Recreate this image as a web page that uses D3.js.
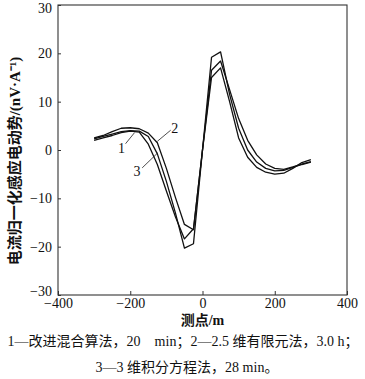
<!DOCTYPE html>
<html>
<head>
<meta charset="utf-8">
<script src="https://cdn.jsdelivr.net/npm/d3@7"></script>
<style>
body { margin: 0; background: #fff; }
svg { display: block; }
</style>
</head>
<body>
<svg id="chart"></svg>
<script>
// ===== data =====
const points = [-300,-275,-250,-225,-200,-175,-150,-125,-100,-75,-50,-25,0,25,50,75,100,125,150,175,200,225,250,275,300];
const curve1 = [2.0,2.5,3.0,3.6,3.9,3.7,1.2,-3.0,-8.5,-13.8,-18.4,-16.3,0,16.5,18.4,12.5,6.5,2.0,-1.0,-2.9,-3.8,-4.0,-3.5,-2.9,-2.4];
const curve2 = [2.5,3.0,3.8,4.5,4.6,4.4,3.5,1.5,-3.8,-9.8,-15.4,-16.5,0,15.0,17.0,10.0,2.5,-1.5,-3.6,-4.6,-5.0,-4.8,-3.8,-2.6,-2.0];
const curve3 = [2.3,2.8,3.3,3.8,4.0,3.9,2.8,-0.8,-6.5,-13.0,-20.3,-19.4,0,19.2,20.3,11.5,4.5,0,-2.5,-3.8,-4.3,-4.2,-3.6,-3.0,-2.5];
const xTicks = [-400,-200,0,200,400];
const yTicks = [-30,-20,-10,0,10,20,30];
// curve labels: [text, label x, label y, leader from x,y, leader to x,y] in data units
const curveLabels = [
  ["1", -224, 0.4, -213, 1.3, -188, 3.6],
  ["2", -77, 4.6, -88, 4.1, -125, 1.8],
  ["3", -181, -4.4, -167, -3.7, -124, -0.6]
];
const xTitle = "测点/m";
const yTitle = "电流归一化感应电动势/(nV·A⁻¹)";
const caption1 = "1—改进混合算法，20　min；2—2.5 维有限元法，3.0 h；";
const caption2 = "3—3 维积分方程法，28 min。";

// ===== setup =====
const W = 365, H = 379;
const mLeft = 58, mRight = 347, mTop = 5, mBottom = 295;
const svg = d3.select("#chart").attr("width", W).attr("height", H);
const serif = "'Liberation Serif', 'Times New Roman', 'Noto Sans CJK SC', serif";
const cjk = "'Liberation Serif', 'Noto Sans CJK SC', serif";

const xs = d3.scaleLinear().domain([-400, 400]).range([mLeft, mRight]);
const ys = d3.scaleLinear().domain([-30, 30]).range([mBottom, mTop]);

// frame
svg.append("rect")
  .attr("x", mLeft).attr("y", mTop)
  .attr("width", mRight - mLeft).attr("height", mBottom - mTop)
  .attr("fill", "none").attr("stroke", "#333").attr("stroke-width", 1.1);

// axes (ticks inward)
const xAxis = svg.append("g")
  .attr("transform", "translate(0," + mBottom + ")")
  .call(d3.axisBottom(xs).tickValues(xTicks).tickSizeInner(-4).tickSizeOuter(0).tickPadding(3)
    .tickFormat(d => d < 0 ? "\u2212" + Math.abs(d) : d));
xAxis.select(".domain").remove();
xAxis.selectAll("text").attr("font-family", serif).attr("font-size", 14).attr("fill", "#111");
xAxis.selectAll("line").attr("stroke", "#333");

const yAxis = svg.append("g")
  .attr("transform", "translate(" + mLeft + ",0)")
  .call(d3.axisLeft(ys).tickValues(yTicks).tickSizeInner(-3).tickSizeOuter(0).tickPadding(6)
    .tickFormat(d => d < 0 ? "\u2212" + Math.abs(d) : d));
yAxis.select(".domain").remove();
yAxis.selectAll("text").attr("font-family", serif).attr("font-size", 14).attr("fill", "#111");
yAxis.selectAll("text").filter(d => d === 30).attr("dy", "0.5em");
yAxis.selectAll("text").filter(d => d === -30).attr("dy", "0.02em");
yAxis.selectAll("line").attr("stroke", "#333");

// curves
const line = d3.line().x((d, i) => xs(points[i])).y(d => ys(d));
[curve1, curve2, curve3].forEach(c => {
  svg.append("path")
    .datum(c)
    .attr("d", line)
    .attr("fill", "none")
    .attr("stroke", "#111")
    .attr("stroke-width", 1.3)
    .attr("stroke-linejoin", "round");
});

// curve labels
curveLabels.forEach(l => {
  svg.append("line")
    .attr("x1", xs(l[3])).attr("y1", ys(l[4]))
    .attr("x2", xs(l[5])).attr("y2", ys(l[6]))
    .attr("stroke", "#222").attr("stroke-width", 0.8);
  svg.append("text")
    .attr("x", xs(l[1])).attr("y", ys(l[2]))
    .attr("dy", "0.35em")
    .attr("text-anchor", "middle")
    .attr("font-family", serif).attr("font-size", 14).attr("fill", "#111")
    .text(l[0]);
});

// titles
svg.append("text")
  .attr("x", (mLeft + mRight) / 2).attr("y", 325)
  .attr("text-anchor", "middle")
  .attr("font-family", cjk).attr("font-size", 14).attr("font-weight", "bold").attr("fill", "#111")
  .text(xTitle);

svg.append("text")
  .attr("transform", "translate(20,161) rotate(-90)")
  .attr("text-anchor", "middle")
  .attr("font-family", cjk).attr("font-size", 15).attr("font-weight", 600).attr("fill", "#111")
  .text(yTitle);

// caption
svg.append("text")
  .attr("x", 183).attr("y", 346)
  .attr("text-anchor", "middle")
  .attr("font-family", cjk).attr("font-size", 14).attr("fill", "#111")
  .text(caption1);
svg.append("text")
  .attr("x", 187).attr("y", 372)
  .attr("text-anchor", "middle")
  .attr("font-family", cjk).attr("font-size", 14).attr("fill", "#111")
  .text(caption2);
</script>
</body>
</html>
